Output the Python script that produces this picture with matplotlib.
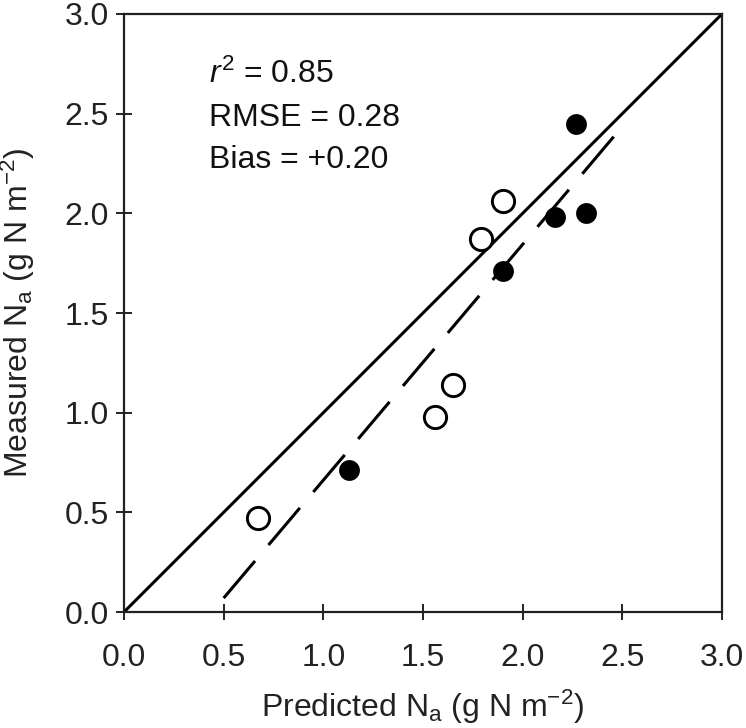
import matplotlib
matplotlib.use("Agg")
import matplotlib.pyplot as plt

# data
filled_x = [1.13, 1.90, 2.16, 2.32, 2.27]
filled_y = [0.71, 1.71, 1.98, 2.00, 2.45]
open_x = [0.67, 1.56, 1.65, 1.79, 1.90]
open_y = [0.47, 0.98, 1.14, 1.87, 2.06]
one_to_one = [0.0, 3.0]
fit_x = [0.50, 2.47]
fit_y = [0.07, 2.40]
stats_labels = [r"$r^{2}$ = 0.85", "RMSE = 0.28", "Bias = +0.20"]
stats_y = [2.654, 2.44, 2.228]
ticks = [0.0, 0.5, 1.0, 1.5, 2.0, 2.5, 3.0]
tick_labels = ["0.0", "0.5", "1.0", "1.5", "2.0", "2.5", "3.0"]

plt.rcParams["font.family"] = ["Liberation Sans", "DejaVu Sans"]
plt.rcParams["mathtext.fontset"] = "custom"
plt.rcParams["mathtext.rm"] = "Liberation Sans"
plt.rcParams["mathtext.it"] = "Liberation Sans:italic"
plt.rcParams["lines.scale_dashes"] = False

fig = plt.figure(figsize=(7.46, 7.28), dpi=100)
ax = fig.add_axes([0.1662, 0.1593, 0.8016, 0.8215])

# 1:1 line and fitted regression line
ax.plot(one_to_one, one_to_one, color="black", linewidth=2.2,
        solid_capstyle="butt")
ax.plot(fit_x, fit_y, color="black", linewidth=2.2,
        dashes=(35, 15), dash_capstyle="butt")
ax.plot(filled_x, filled_y, "o", color="black", markersize=15,
        markeredgewidth=0, linestyle="none")
ax.plot(open_x, open_y, "o", markerfacecolor="white",
        markeredgecolor="black", markersize=16, markeredgewidth=2.1,
        linestyle="none")

for label, y in zip(stats_labels, stats_y):
    ax.text(0.427, y, label, fontsize=23, va="baseline", ha="left",
            color="#111111")

ax.set_xlim(0, 3)
ax.set_ylim(0, 3)
ax.set_xticks(ticks)
ax.set_xticklabels(tick_labels)
ax.set_yticks(ticks)
ax.set_yticklabels(tick_labels)
ax.tick_params(axis="both", direction="inout", length=12, width=1.4,
               labelsize=23, colors="#222222")
ax.tick_params(axis="x", pad=16)
ax.tick_params(axis="y", pad=5)
for spine in ax.spines.values():
    spine.set_linewidth(1.6)
    spine.set_color("#222222")

ax.set_xlabel(r"Predicted N$_{\mathregular{a}}$ (g N m$^{\mathregular{−2}}$)",
              fontsize=23, va="baseline", color="#222222")
ax.set_ylabel(r"Measured N$_{\mathregular{a}}$ (g N m$^{\mathregular{−2}}$)",
              fontsize=23, va="baseline", color="#222222")
ax.xaxis.set_label_coords(0.5, -0.1756)
ax.yaxis.set_label_coords(-0.1605, 0.5)

# <---------save---------->
plt.savefig("out.png", dpi=100)
